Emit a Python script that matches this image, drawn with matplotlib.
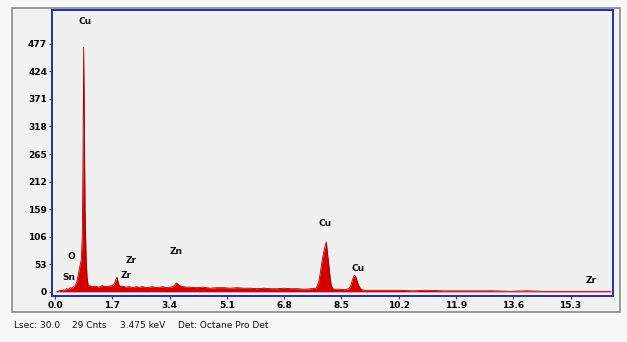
import numpy as np
import matplotlib.pyplot as plt
from matplotlib.patches import Rectangle

# EDS spectrum (keV, counts)
energy = [0.05, 0.1, 0.15, 0.2, 0.25, 0.3, 0.35, 0.4, 0.45, 0.5, 0.55, 0.6, 0.65,
          0.7, 0.74, 0.78, 0.81, 0.83, 0.85, 0.87, 0.89, 0.92, 0.95, 0.98, 1.02,
          1.1, 1.2, 1.3, 1.4, 1.5, 1.6, 1.7, 1.76, 1.8, 1.84, 1.87, 1.9, 1.95,
          2.0, 2.1, 2.2, 2.3, 2.4, 2.5, 2.6, 2.7, 2.8, 2.9, 3.0, 3.1, 3.2, 3.3,
          3.4, 3.5, 3.55, 3.6, 3.65, 3.7, 3.8, 3.9, 4.0, 4.2, 4.4, 4.6, 4.8,
          5.0, 5.2, 5.4, 5.6, 5.8, 6.0, 6.2, 6.4, 6.6, 6.8, 7.0, 7.2, 7.4,
          7.6, 7.75, 7.82, 7.87, 7.92, 7.97, 8.01, 8.05, 8.08, 8.12, 8.16,
          8.2, 8.25, 8.3, 8.45, 8.6, 8.72, 8.78, 8.83, 8.88, 8.92, 8.96, 9.0,
          9.05, 9.1, 9.2, 9.5, 9.8, 10.2, 10.6, 11.0, 11.5, 12.0, 12.5, 13.0,
          13.5, 14.0, 14.5, 15.0, 15.5, 16.0, 16.5]
counts = [0, 1, 3, 2, 4, 3, 6, 5, 8, 7, 10, 12, 20,
          36, 50, 62, 110, 260, 470, 320, 160, 70, 28, 14, 12,
          10, 11, 9, 12, 10, 11, 12, 16, 22, 28, 20, 13, 10,
          11, 9, 10, 8, 10, 9, 10, 8, 9, 10, 8, 9, 10, 8,
          9, 10, 13, 17, 15, 12, 10, 9, 9, 8, 9, 7, 8,
          8, 7, 8, 7, 7, 6, 7, 6, 6, 7, 6, 6, 5,
          6, 7, 18, 35, 58, 75, 86, 96, 78, 55, 30,
          12, 6, 5, 5, 4, 6, 12, 24, 32, 30, 22, 14,
          8, 4, 3, 3, 3, 3, 2, 3, 2, 2, 2, 2,
          1, 2, 1, 1, 1, 1, 1]

# element labels: (name, keV, counts)
lbl_names = ['Cu', 'O', 'Sn', 'Zr', 'Zr', 'Zn', 'Cu', 'Cu', 'Zr']
lbl_x = [0.9, 0.48, 0.4, 2.25, 2.1, 3.6, 8.0, 9.0, 15.9]
lbl_y = [520, 68, 28, 60, 32, 78, 132, 45, 22]

xticks = [0.0, 1.7, 3.4, 5.1, 6.8, 8.5, 10.2, 11.9, 13.6, 15.3]
yticks = [0, 53, 106, 159, 212, 265, 318, 371, 424, 477]

footer = ['Lsec: 30.0', '29 Cnts', '3.475 keV', 'Det: Octane Pro Det']
footer_x = [14, 72, 120, 178]

fig = plt.figure(figsize=(6.27, 3.42), dpi=100)
fig.patch.set_facecolor('#f7f7f7')

# grey panel behind the plot
bg = fig.add_axes([0, 0, 1, 1], zorder=-5)
bg.set_xlim(0, 627)
bg.set_ylim(342, 0)
bg.axis('off')
bg.add_patch(Rectangle((12, 8), 608, 304, facecolor='#f1f1f1',
                       edgecolor='#8a8a8a', linewidth=1.2))

ax = fig.add_axes([52 / 627, 1 - 296 / 342, 561 / 627, 286 / 342])
ax.set_facecolor('#f0f0f0')
ax.fill_between(energy, 0, counts, color='#d60000', linewidth=0)
ax.plot(energy, counts, color='#a00000', linewidth=0.6)

for name, x, y in zip(lbl_names, lbl_x, lbl_y):
    ax.text(x, y, name, ha='center', va='center', fontsize=6.5,
            fontweight='bold', color='#111111')

ax.set_xlim(-0.09, 16.56)
ax.set_ylim(-8, 542)
ax.set_xticks(xticks)
ax.set_xticklabels(['%.1f' % v for v in xticks])
ax.set_yticks(yticks)
ax.tick_params(labelsize=6.5, length=2, pad=1.5, color='#3030a0')
for lab in ax.get_xticklabels() + ax.get_yticklabels():
    lab.set_fontweight('bold')
for s in ax.spines.values():
    s.set_color('#2b2ba8')
    s.set_linewidth(1.4)

for txt, x in zip(footer, footer_x):
    fig.text(x / 627, 1 - 326 / 342, txt, fontsize=6.5, va='center', color='#111111')

fig.savefig('out.png', dpi=100, facecolor=fig.get_facecolor())
